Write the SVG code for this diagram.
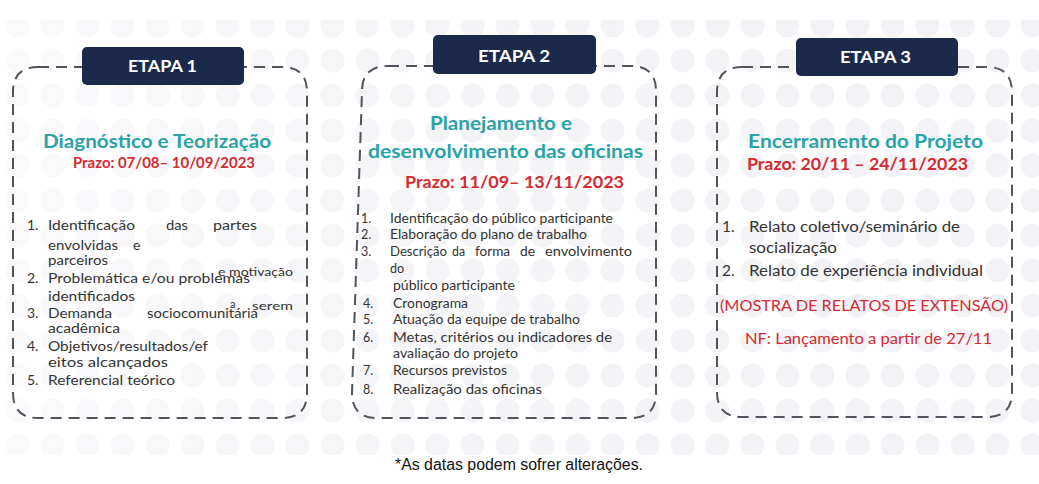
<svg xmlns="http://www.w3.org/2000/svg" width="1039" height="484" viewBox="0 0 1039 484">
<style>
.frame{fill:none;stroke:#4f545d;stroke-width:2;stroke-dasharray:11 7}
.hdr{fill:#1b2a4a}
.htx{font-family:Lato,"Open Sans",sans-serif;font-weight:700;font-size:17px;fill:#ffffff}
.ttl{font-family:Lato,"Open Sans",sans-serif;font-weight:700;fill:#2aa3a6}
.red{font-family:Lato,"Open Sans",sans-serif;font-weight:700;fill:#d42a31}
.redn{font-family:Lato,"Open Sans",sans-serif;fill:#d42a31}
.b1{font-family:Lato,"Open Sans",sans-serif;font-size:14px;fill:#333333}
.b2{font-family:Lato,"Open Sans",sans-serif;font-size:12.5px;fill:#333333}
.b3{font-family:Lato,"Open Sans",sans-serif;font-size:15.5px;fill:#333333}
.sm{font-family:Lato,"Open Sans",sans-serif;font-size:11px;fill:#333333}
.cap{font-family:"Liberation Sans",Arial,sans-serif;font-size:16px;fill:#111111}
</style>
<defs>
<pattern id="dots" x="0" y="8" width="35" height="35" patternUnits="userSpaceOnUse">
<circle cx="17.5" cy="17.5" r="12" fill="#f3f3f7"/>
</pattern>
<linearGradient id="fade" x1="0" y1="0" x2="1" y2="0">
<stop offset="0" stop-color="#ffffff" stop-opacity="0.6"/>
<stop offset="0.45" stop-color="#ffffff" stop-opacity="0.1"/>
<stop offset="1" stop-color="#ffffff" stop-opacity="0"/>
</linearGradient>
</defs>
<rect x="0" y="0" width="1039" height="484" fill="#ffffff"/>
<rect x="0" y="20" width="1039" height="435" fill="url(#dots)"/>
<rect x="0" y="20" width="1039" height="435" fill="url(#fade)"/>

<g id="etapa1">
<path class="frame" d="M38 67 H282 Q307 67 307 92 V393 Q307 418 282 418 H38 Q13 418 13 393 V92 Q13 67 38 67 Z"/>
<rect class="hdr" x="82" y="47" width="162" height="38" rx="5"/>
<text class="htx" x="128" y="72" textLength="69" lengthAdjust="spacingAndGlyphs">ETAPA 1</text>
<text class="ttl" x="43" y="148" font-size="19.5" textLength="228" lengthAdjust="spacingAndGlyphs">Diagnóstico e Teorização</text>
<text class="red" x="73" y="168" font-size="14.5" textLength="182" lengthAdjust="spacingAndGlyphs">Prazo: 07/08– 10/09/2023</text>
<text class="b1" x="27" y="230">1.</text>
<text class="b1" x="48" y="230" textLength="87" lengthAdjust="spacingAndGlyphs">Identificação</text>
<text class="b1" x="166" y="230" textLength="22" lengthAdjust="spacingAndGlyphs">das</text>
<text class="b1" x="213" y="230" textLength="44" lengthAdjust="spacingAndGlyphs">partes</text>
<text class="b1" x="48" y="250" textLength="70" lengthAdjust="spacingAndGlyphs">envolvidas</text>
<text class="b1" x="133" y="250">e</text>
<text class="b1" x="48" y="265" textLength="60" lengthAdjust="spacingAndGlyphs">parceiros</text>
<text class="b1" x="27" y="283">2.</text>
<text class="b1" x="48" y="283" textLength="202" lengthAdjust="spacingAndGlyphs">Problemática e/ou problemas</text>
<text class="sm" x="218" y="276" textLength="75" lengthAdjust="spacingAndGlyphs">e motivação</text>
<text class="b1" x="48" y="301" textLength="87" lengthAdjust="spacingAndGlyphs">identificados</text>
<text class="b1" x="27" y="318">3.</text>
<text class="b1" x="48" y="318" textLength="64" lengthAdjust="spacingAndGlyphs">Demanda</text>
<text class="b1" x="147" y="318" textLength="111" lengthAdjust="spacingAndGlyphs">sociocomunitária</text>
<text class="sm" x="230" y="308">a</text>
<text class="sm" x="252" y="310" textLength="41" lengthAdjust="spacingAndGlyphs">serem</text>
<text class="b1" x="48" y="333" textLength="72" lengthAdjust="spacingAndGlyphs">acadêmica</text>
<text class="b1" x="27" y="351">4.</text>
<text class="b1" x="48" y="351" textLength="160" lengthAdjust="spacingAndGlyphs">Objetivos/resultados/ef</text>
<text class="b1" x="48" y="367" textLength="120" lengthAdjust="spacingAndGlyphs">eitos alcançados</text>
<text class="b1" x="27" y="385">5.</text>
<text class="b1" x="48" y="385" textLength="127" lengthAdjust="spacingAndGlyphs">Referencial teórico</text>
</g>

<g id="etapa2">
<path class="frame" d="M388 66 H631 Q656 66 656 91 V393 Q656 418 631 418 H377 Q352 418 352 393 L362 91 Q362 66 388 66 Z"/>
<rect class="hdr" x="433" y="35" width="163" height="39" rx="5"/>
<text class="htx" x="478" y="62" textLength="72" lengthAdjust="spacingAndGlyphs">ETAPA 2</text>
<text class="ttl" x="430" y="130" font-size="19.5" textLength="142" lengthAdjust="spacingAndGlyphs">Planejamento e</text>
<text class="ttl" x="368" y="158" font-size="19.5" textLength="275" lengthAdjust="spacingAndGlyphs">desenvolvimento das oficinas</text>
<text class="red" x="405" y="188" font-size="17.5" textLength="219" lengthAdjust="spacingAndGlyphs">Prazo: 11/09– 13/11/2023</text>
<text class="b2" x="361" y="223">1.</text>
<text class="b2" x="390" y="223" textLength="223" lengthAdjust="spacingAndGlyphs">Identificação do público participante</text>
<text class="b2" x="361" y="239">2.</text>
<text class="b2" x="390" y="239" textLength="197" lengthAdjust="spacingAndGlyphs">Elaboração do plano de trabalho</text>
<text class="b2" x="361" y="256">3.</text>
<text class="b2" x="390" y="256" textLength="57" lengthAdjust="spacingAndGlyphs">Descrição</text>
<text class="b2" x="452" y="256" textLength="13" lengthAdjust="spacingAndGlyphs">da</text>
<text class="b2" x="475" y="256" textLength="35" lengthAdjust="spacingAndGlyphs">forma</text>
<text class="b2" x="520" y="256" textLength="15" lengthAdjust="spacingAndGlyphs">de</text>
<text class="b2" x="545" y="256" textLength="87" lengthAdjust="spacingAndGlyphs">envolvimento</text>
<text class="b2" x="390" y="273">do</text>
<text class="b2" x="393" y="290" textLength="122" lengthAdjust="spacingAndGlyphs">público participante</text>
<text class="b2" x="363" y="308">4.</text>
<text class="b2" x="393" y="308" textLength="75" lengthAdjust="spacingAndGlyphs">Cronograma</text>
<text class="b2" x="363" y="324">5.</text>
<text class="b2" x="393" y="324" textLength="187" lengthAdjust="spacingAndGlyphs">Atuação da equipe de trabalho</text>
<text class="b2" x="363" y="342">6.</text>
<text class="b2" x="393" y="342" textLength="219" lengthAdjust="spacingAndGlyphs">Metas, critérios ou indicadores de</text>
<text class="b2" x="393" y="358" textLength="125" lengthAdjust="spacingAndGlyphs">avaliação do projeto</text>
<text class="b2" x="363" y="375">7.</text>
<text class="b2" x="393" y="375" textLength="114" lengthAdjust="spacingAndGlyphs">Recursos previstos</text>
<text class="b2" x="363" y="394">8.</text>
<text class="b2" x="393" y="394" textLength="149" lengthAdjust="spacingAndGlyphs">Realização das oficinas</text>
</g>

<g id="etapa3">
<path class="frame" d="M742 67 H987 Q1012 67 1012 92 V392 Q1012 417 987 417 H742 Q717 417 717 392 V92 Q717 67 742 67 Z"/>
<rect class="hdr" x="796" y="38" width="162" height="38" rx="5"/>
<text class="htx" x="840" y="63" textLength="71" lengthAdjust="spacingAndGlyphs">ETAPA 3</text>
<text class="ttl" x="748" y="148" font-size="18.5" textLength="235" lengthAdjust="spacingAndGlyphs">Encerramento do Projeto</text>
<text class="red" x="747" y="170" font-size="17" textLength="221" lengthAdjust="spacingAndGlyphs">Prazo: 20/11 – 24/11/2023</text>
<text class="b3" x="722" y="232">1.</text>
<text class="b3" x="749" y="232" textLength="211" lengthAdjust="spacingAndGlyphs">Relato coletivo/seminário de</text>
<text class="b3" x="749" y="253" textLength="88" lengthAdjust="spacingAndGlyphs">socialização</text>
<text class="b3" x="722" y="276">2.</text>
<text class="b3" x="749" y="276" textLength="234" lengthAdjust="spacingAndGlyphs">Relato de experiência individual</text>
<text class="redn" x="720" y="311" font-size="15.5" textLength="288" lengthAdjust="spacingAndGlyphs">(MOSTRA DE RELATOS DE EXTENSÃO)</text>
<text class="redn" x="745" y="344" font-size="15.5" textLength="247" lengthAdjust="spacingAndGlyphs">NF: Lançamento a partir de 27/11</text>
</g>

<g id="connectors"></g>

<text class="cap" x="395" y="470" textLength="248" lengthAdjust="spacingAndGlyphs">*As datas podem sofrer alterações.</text>
</svg>
